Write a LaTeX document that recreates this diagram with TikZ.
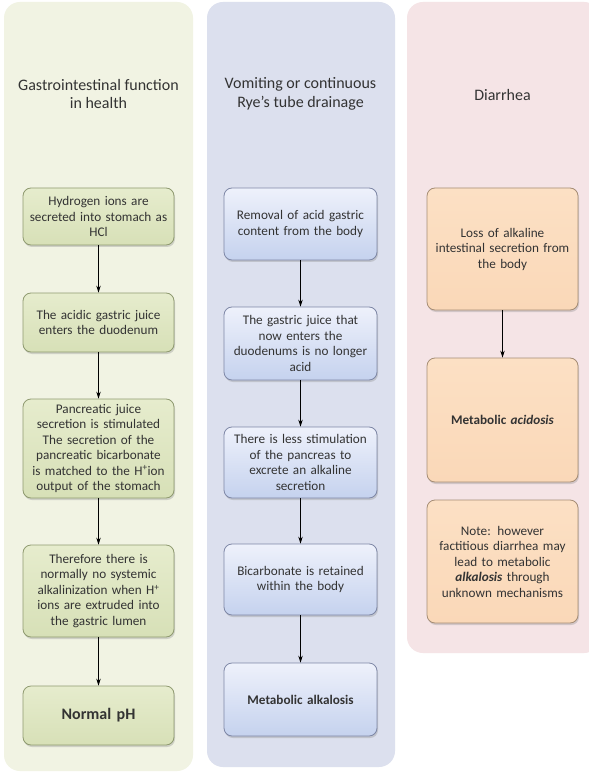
\documentclass[tikz,border=0pt]{standalone}
\usepackage{fontspec}
\setmainfont{Carlito}
\usetikzlibrary{arrows.meta,shadows}
\definecolor{txt}{HTML}{333333}
\definecolor{panelG}{HTML}{F1F3E3}
\definecolor{panelB}{HTML}{DCE0EE}
\definecolor{panelP}{HTML}{F5E4E6}
\definecolor{boxGtop}{HTML}{E6ECCD}
\definecolor{boxGbot}{HTML}{D7E0B7}
\definecolor{boxGline}{HTML}{8F9A70}
\definecolor{boxBtop}{HTML}{EEF1FB}
\definecolor{boxBbot}{HTML}{C5D2EE}
\definecolor{boxBline}{HTML}{7E87A6}
\definecolor{boxPtop}{HTML}{FCE0C4}
\definecolor{boxPbot}{HTML}{FAD8B8}
\definecolor{boxPline}{HTML}{A58D75}
\tikzset{
  panel/.style={rounded corners=16pt, draw=none},
  header/.style={text=txt, align=center, font=\fontsize{16}{18.5}\selectfont},
  flowbox/.style={rounded corners=8pt, line width=0.8pt, align=center, text=txt,
    inner sep=2pt, font=\fontsize{13.2}{15.5}\selectfont,
    drop shadow={shadow xshift=1pt, shadow yshift=-2pt, opacity=0.3}},
  gbox/.style={flowbox, draw=boxGline, top color=boxGtop, bottom color=boxGbot,
    minimum width=151pt, text width=145pt},
  bbox/.style={flowbox, draw=boxBline, top color=boxBtop, bottom color=boxBbot,
    minimum width=153pt, text width=147pt},
  pbox/.style={flowbox, draw=boxPline, top color=boxPtop, bottom color=boxPbot,
    minimum width=151pt, text width=145pt},
  flow/.style={-{Stealth[length=7pt,width=4.5pt]}, line width=0.8pt, black}
}
\begin{document}
\begin{tikzpicture}[x=1pt,y=-1pt]
  \useasboundingbox[fill=white] (0,0) rectangle (588,775);

  % column panels
  \fill[panel, fill=panelG] (4,2) rectangle (193,771);
  \fill[panel, fill=panelB] (207,2) rectangle (395,767);
  \fill[panel, fill=panelP] (407,2) rectangle (600,653);

  % column headings
  \node[header] (hG) at (98.5,94) {Gastrointestinal function\\in health};
  \node[header] (hB) at (300.5,94) {Vomiting or continuous\\Rye's tube drainage};
  \node[header] (hP) at (502.5,95) {Diarrhea};

  % health column
  \node[gbox, minimum height=57pt] (g1) at (98.5,216.5)
    {Hydrogen ions are\\secreted into stomach as\\HCl};
  \node[gbox, minimum height=59pt] (g2) at (98.5,322.5)
    {The acidic gastric juice\\enters the duodenum};
  \node[gbox, minimum height=99pt] (g3) at (98.5,448.5)
    {Pancreatic juice\\secretion is stimulated\\The secretion of the\\pancreatic bicarbonate\\is matched to the H\textsuperscript{+}ion\\output of the stomach};
  \node[gbox, minimum height=92pt] (g4) at (98.5,591)
    {Therefore there is\\normally no systemic\\alkalinization when H\textsuperscript{+}\\ions are extruded into\\the gastric lumen};
  \node[gbox, minimum height=59pt, font=\fontsize{16}{18}\selectfont\bfseries] (g5) at (98.5,715.5)
    {Normal pH};

  % vomiting column
  \node[bbox, minimum height=72pt] (b1) at (300.5,224)
    {Removal of acid gastric\\content from the body};
  \node[bbox, minimum height=73pt] (b2) at (300.5,343.5)
    {The gastric juice that\\now enters the\\duodenums is no longer\\acid};
  \node[bbox, minimum height=71pt] (b3) at (300.5,462.5)
    {There is less stimulation\\of the pancreas to\\excrete an alkaline\\secretion};
  \node[bbox, minimum height=71pt] (b4) at (300.5,579.5)
    {Bicarbonate is retained\\within the body};
  \node[bbox, minimum height=73pt, font=\fontsize{13.2}{15.5}\selectfont\bfseries] (b5) at (300.5,699.5)
    {Metabolic alkalosis};

  % diarrhea column
  \node[pbox, minimum height=122pt] (p1) at (502.5,249)
    {Loss of alkaline\\intestinal secretion from\\the body};
  \node[pbox, minimum height=124pt, font=\fontsize{13.2}{15.5}\selectfont\bfseries] (p2) at (502.5,420)
    {Metabolic \textit{acidosis}};
  \node[pbox, minimum height=123pt] (p3) at (502.5,561.5)
    {Note: however\\factitious diarrhea may\\lead to metabolic\\\textbf{\textit{alkalosis}} through\\unknown mechanisms};

  % connectors
  \draw[flow] (g1) -- (g2);
  \draw[flow] (g2) -- (g3);
  \draw[flow] (g3) -- (g4);
  \draw[flow] (g4) -- (g5);
  \draw[flow] (b1) -- (b2);
  \draw[flow] (b2) -- (b3);
  \draw[flow] (b3) -- (b4);
  \draw[flow] (b4) -- (b5);
  \draw[flow] (p1) -- (p2);
\end{tikzpicture}
\end{document}
